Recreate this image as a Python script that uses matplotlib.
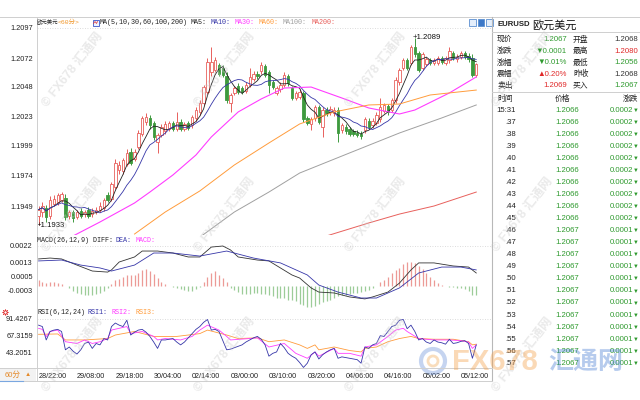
import numpy as np
import pandas as pd
import matplotlib
matplotlib.use("Agg")
import matplotlib.pyplot as plt
from matplotlib.patches import Rectangle, Circle

W, H = 640, 400
plt.rcParams['font.family'] = ['Liberation Sans', 'Noto Sans CJK SC', 'DejaVu Sans']

# ---------------- data (60 min EURUSD) ----------------
opens = [1.1941, 1.1944, 1.1947, 1.1941, 1.1951, 1.1952, 1.1954, 1.1956, 1.1941, 1.1944,
         1.1940, 1.1945, 1.1942, 1.1946, 1.1942, 1.1944, 1.1946, 1.1947, 1.1958, 1.1955,
         1.1965, 1.1979, 1.1978, 1.1984, 1.1994, 1.1988, 1.1998, 1.2009, 1.2019, 1.2022,
         1.2018, 1.2002, 1.2008, 1.2011, 1.2013, 1.2018, 1.2013, 1.2019, 1.2013, 1.2018,
         1.2016, 1.2022, 1.2027, 1.2035, 1.2044, 1.2060, 1.2062, 1.2066, 1.2064, 1.2057,
         1.2035, 1.2043, 1.2049, 1.2047, 1.2045, 1.2050, 1.2055, 1.2059, 1.2061, 1.2065,
         1.2060, 1.2052, 1.2043, 1.2046, 1.2050, 1.2057, 1.2047, 1.2039, 1.2040, 1.2043,
         1.2022, 1.2017, 1.2022, 1.2031, 1.2015, 1.2029, 1.2027, 1.2026, 1.2029, 1.2012,
         1.2015, 1.2013, 1.2011, 1.2010, 1.2009, 1.2012, 1.2020, 1.2016, 1.2018, 1.2021,
         1.2028, 1.2032, 1.2029, 1.2037, 1.2052, 1.2064, 1.2070, 1.2068, 1.2081, 1.2076,
         1.2064, 1.2067, 1.2070, 1.2068, 1.2068, 1.2072, 1.2068, 1.2070, 1.2076, 1.2071,
         1.2073, 1.2076, 1.2074, 1.2072, 1.2058]
highs = [1.1949, 1.1952, 1.1950, 1.1957, 1.1958, 1.1960, 1.1961, 1.1959, 1.1946, 1.1946,
         1.1946, 1.1947, 1.1946, 1.1948, 1.1947, 1.1948, 1.1952, 1.1956, 1.1961, 1.1969,
         1.1988, 1.1986, 1.1989, 1.1996, 1.1997, 1.1996, 1.2012, 1.2024, 1.2026, 1.2025,
         1.2020, 1.2010, 1.2017, 1.2020, 1.2020, 1.2020, 1.2027, 1.2021, 1.2019, 1.2020,
         1.2025, 1.2031, 1.2037, 1.2050, 1.2072, 1.2081, 1.2073, 1.2068, 1.2066, 1.2060,
         1.2043, 1.2049, 1.2051, 1.2049, 1.2052, 1.2064, 1.2061, 1.2061, 1.2069, 1.2067,
         1.2062, 1.2054, 1.2049, 1.2052, 1.2060, 1.2059, 1.2049, 1.2045, 1.2046, 1.2045,
         1.2024, 1.2023, 1.2033, 1.2033, 1.2031, 1.2031, 1.2032, 1.2031, 1.2031, 1.2018,
         1.2017, 1.2015, 1.2013, 1.2012, 1.2011, 1.2023, 1.2022, 1.2022, 1.2027, 1.2039,
         1.2035, 1.2034, 1.2039, 1.2056, 1.2064, 1.2072, 1.2072, 1.2083, 1.2089, 1.2078,
         1.2077, 1.2073, 1.2072, 1.2072, 1.2074, 1.2074, 1.2074, 1.2081, 1.2078, 1.2075,
         1.2078, 1.2078, 1.2076, 1.2075, 1.2068]
lows = [1.1933, 1.1940, 1.1936, 1.1938, 1.1949, 1.1950, 1.1952, 1.1937, 1.1938, 1.1936,
        1.1938, 1.1939, 1.1940, 1.1939, 1.1940, 1.1942, 1.1944, 1.1945, 1.1952, 1.1953,
        1.1963, 1.1976, 1.1976, 1.1982, 1.1983, 1.1986, 1.1996, 1.2007, 1.2016, 1.2013,
        1.2004, 1.1993, 1.2006, 1.2009, 1.2011, 1.2011, 1.2011, 1.2011, 1.2011, 1.2012,
        1.2014, 1.2020, 1.2025, 1.2033, 1.2042, 1.2057, 1.2060, 1.2057, 1.2056, 1.2035,
        1.2027, 1.2041, 1.2042, 1.2042, 1.2043, 1.2048, 1.2053, 1.2055, 1.2059, 1.2056,
        1.2043, 1.2046, 1.2041, 1.2044, 1.2048, 1.2049, 1.2037, 1.2037, 1.2038, 1.2019,
        1.2016, 1.2012, 1.2020, 1.2017, 1.2006, 1.2024, 1.2025, 1.2024, 1.2002, 1.2010,
        1.2009, 1.2007, 1.2007, 1.2006, 1.2005, 1.2010, 1.2013, 1.2014, 1.2016, 1.2019,
        1.2026, 1.2025, 1.2027, 1.2035, 1.2050, 1.2062, 1.2062, 1.2066, 1.2073, 1.2060,
        1.2062, 1.2065, 1.2066, 1.2066, 1.2066, 1.2067, 1.2066, 1.2068, 1.2070, 1.2069,
        1.2071, 1.2071, 1.2069, 1.2056, 1.2056]
closes = [1.1946, 1.1949, 1.1940, 1.1954, 1.1955, 1.1958, 1.1959, 1.1940, 1.1944, 1.1939,
          1.1944, 1.1941, 1.1944, 1.1941, 1.1945, 1.1946, 1.1949, 1.1954, 1.1954, 1.1967,
          1.1985, 1.1983, 1.1987, 1.1993, 1.1985, 1.1994, 1.2010, 1.2022, 1.2023, 1.2016,
          1.2006, 1.2008, 1.2015, 1.2017, 1.2018, 1.2013, 1.2019, 1.2013, 1.2017, 1.2014,
          1.2023, 1.2029, 1.2035, 1.2048, 1.2069, 1.2069, 1.2070, 1.2059, 1.2058, 1.2037,
          1.2041, 1.2047, 1.2044, 1.2044, 1.2050, 1.2056, 1.2059, 1.2057, 1.2066, 1.2058,
          1.2050, 1.2048, 1.2047, 1.2050, 1.2058, 1.2051, 1.2039, 1.2043, 1.2044, 1.2021,
          1.2018, 1.2021, 1.2031, 1.2019, 1.2029, 1.2026, 1.2030, 1.2029, 1.2010, 1.2016,
          1.2011, 1.2009, 1.2009, 1.2008, 1.2007, 1.2021, 1.2015, 1.2020, 1.2025, 1.2031,
          1.2033, 1.2027, 1.2037, 1.2054, 1.2062, 1.2070, 1.2064, 1.2081, 1.2075, 1.2062,
          1.2075, 1.2071, 1.2068, 1.2070, 1.2072, 1.2069, 1.2072, 1.2078, 1.2072, 1.2073,
          1.2076, 1.2073, 1.2071, 1.2058, 1.2067]
time_labels = ["28/22:00", "29/08:00", "29/18:00", "30/04:00", "02/14:00", "03/00:00",
               "03/10:00", "03/20:00", "04/06:00", "04/16:00", "05/02:00", "05/12:00"]

# long moving averages (bar index, value)
ma30_idx = [9, 16, 25, 29, 35, 41, 45, 52, 58, 64, 71, 79, 86, 94, 98, 107, 114]
ma30_val = [1.19241, 1.19357, 1.19515, 1.19606, 1.19748, 1.19914, 1.20064, 1.20272, 1.20380,
            1.20471, 1.20479, 1.20388, 1.20305, 1.20255, 1.20288, 1.20430, 1.20563]
ma60_idx = [25, 33, 42, 51, 60, 68, 77, 86, 94, 102, 114]
ma60_val = [1.19257, 1.19440, 1.19615, 1.19831, 1.20014, 1.20172, 1.20272, 1.20330, 1.20338,
            1.20413, 1.20454]
ma100_idx = [41, 51, 60, 68, 81, 94, 105, 114]
ma100_val = [1.19207, 1.19440, 1.19606, 1.19764, 1.19931, 1.20097, 1.20222, 1.20330]
ma200_idx = [75, 86, 94, 103, 114]
ma200_val = [1.19241, 1.19349, 1.19423, 1.19490, 1.19606]

# MACD(26,12,9)
diff_idx = [0, 3, 6, 10, 14, 18, 19, 21, 25, 27, 31, 35, 39, 42, 45, 48, 50, 52, 57, 60, 63,
            66, 68, 71, 73, 77, 81, 85, 87, 91, 94, 97, 99, 103, 108, 112, 114]
diff_val = [0.00148, 0.00153, 0.00148, 0.00114, 0.00081, 0.00075, 0.00087, 0.00131, 0.00159,
            0.00192, 0.00192, 0.00181, 0.00159, 0.00159, 0.00214, 0.00220, 0.00198, 0.00159,
            0.00142, 0.00137, 0.00098, 0.00059, 0.00042, -0.00013, -0.00036, -0.00041,
            -0.00063, -0.00074, -0.00063, -0.00036, 0.00014, 0.00087, 0.00126, 0.00126,
            0.00109, 0.00103, 0.00070]
dea_idx = [0, 6, 11, 16, 19, 25, 30, 35, 42, 49, 56, 63, 70, 73, 78, 84, 88, 94, 99, 105, 110, 114]
dea_val = [0.00137, 0.00142, 0.00114, 0.00098, 0.00081, 0.00114, 0.00181, 0.00181, 0.00164,
           0.00192, 0.00153, 0.00126, 0.00059, 0.00003, -0.00036, -0.00069, -0.00069,
           -0.00013, 0.00070, 0.00103, 0.00103, 0.00087]
macd_hist = [0.00030, 0.00020, 0.00015, 0.00018, 0.00018, 0.00012, 0.00008,
             -0.00005, -0.00015, -0.00030, -0.00040, -0.00045, -0.00050, -0.00050, -0.00050,
             -0.00045, -0.00040, -0.00030, -0.00015, 0.00010,
             0.00030, 0.00035, 0.00050, 0.00060, 0.00060, 0.00060, 0.00070, 0.00088, 0.00092,
             0.00080, 0.00065, 0.00040, 0.00020, 0.00010,
             -0.00005, -0.00010, -0.00015, -0.00020, -0.00025, -0.00030, -0.00030, -0.00020,
             -0.00010,
             0.00020, 0.00050, 0.00070, 0.00080, 0.00060, 0.00040, 0.00020,
             -0.00015, -0.00025, -0.00035, -0.00045, -0.00047, -0.00045, -0.00043, -0.00043,
             -0.00045, -0.00048, -0.00050, -0.00060, -0.00070, -0.00070, -0.00070, -0.00078,
             -0.00080, -0.00085, -0.00100, -0.00110, -0.00120, -0.00120, -0.00115, -0.00100,
             -0.00090, -0.00085, -0.00080, -0.00070, -0.00060, -0.00055, -0.00050, -0.00045,
             -0.00043, -0.00040, -0.00035, -0.00030, -0.00022, -0.00015, -0.00005,
             0.00020, 0.00030, 0.00050, 0.00070, 0.00085, 0.00100, 0.00120, 0.00130, 0.00130,
             0.00125, 0.00110, 0.00090, 0.00070, 0.00050, 0.00030, 0.00015, 0.00005,
             -0.00005, -0.00008, -0.00010, -0.00015, -0.00015, -0.00020, -0.00030, -0.00050,
             -0.00050]

# RSI(6,12,24)
rsi1 = [82, 80, 61, 73, 75, 76, 73, 47, 51, 45,
        41, 47, 56, 58, 49, 56, 54, 63, 61, 80,
        85, 82, 80, 89, 68, 72, 75, 76, 72, 66,
        58, 49, 61, 61, 62, 63, 58, 54, 58, 64,
        70, 76, 80, 86, 90, 75, 76, 73, 60, 47,
        48, 50, 52, 54, 58, 61, 64, 66, 62, 54,
        38, 42, 44, 56, 50, 42, 38, 35, 29, 22,
        28, 40, 44, 34, 40, 44, 47, 49, 35, 37,
        36, 35, 34, 33, 28, 51, 49, 54, 56, 67,
        66, 73, 80, 82, 89, 90, 77, 82, 73, 61,
        63, 58, 56, 61, 58, 57, 55, 62, 56, 57,
        59, 60, 56, 35, 54]
rsi2_idx = [0, 1, 2, 3, 5, 7, 10, 12, 14, 16, 18, 19, 23, 24, 27, 30, 31, 33, 37, 40, 42, 44,
            47, 49, 50, 55, 57, 60, 64, 67, 70, 72, 73, 77, 78, 81, 84, 85, 88, 91, 93, 95,
            96, 99, 103, 107, 110, 112, 113, 114]
rsi2_val = [77.5, 76, 65.6, 73, 75, 58.5, 56, 61, 56, 58.5, 63, 75, 80, 70, 73, 66, 61, 63,
            61, 66, 75, 82, 75, 66, 61, 63, 64, 51, 56, 42, 35, 44, 38, 49, 42, 42, 38, 51,
            54, 66, 75, 77.5, 73, 63, 61, 61, 60, 58, 49, 54]
rsi3_idx = [0, 5, 7, 12, 18, 20, 25, 30, 36, 42, 44, 49, 52, 57, 60, 64, 68, 70, 72, 73, 77,
            81, 84, 85, 88, 91, 94, 97, 99, 103, 108, 112, 113, 114]
rsi3_val = [69, 69.5, 61, 61, 63, 68, 73, 66, 66, 70, 75, 68, 63, 64, 58.5, 61, 54, 49, 54,
            47, 51, 46, 44, 49, 51, 58.5, 63, 66, 63, 62, 62, 58.5, 54, 55]

# quote panel
quote_rows = [("现价", "1.2067", "g", "开盘", "1.2068", "k"),
              ("涨跌", "▼0.0001", "g", "最高", "1.2080", "r"),
              ("涨幅", "▼0.01%", "g", "最低", "1.2056", "g"),
              ("震幅", "▲0.20%", "r", "昨收", "1.2068", "k"),
              ("卖出", "1.2069", "r", "买入", "1.2067", "g")]
tick_times = ["15:31", ".37", ".38", ".39", ".40", ".41", ".42", ".43", ".44", ".45", ".46",
              ".47", ".48", ".49", ".50", ".51", ".52", ".53", ".54", ".55", ".56", ".57"]
tick_prices = ["1.2066"] * 10 + ["1.2067"] * 12
tick_changes = ["0.0002"] * 10 + ["0.0001"] * 12

# ---------------- styles ----------------
RED = '#e8605c'
GREEN = '#3e9a3e'
HRED = '#ec9a96'
HGREEN = '#9ccc98'
BLUE = '#3636a8'
MAG = '#ff3cff'
ORANGE = '#ff9c3c'
GRAY = '#a0a0a0'
MA200C = '#e8605c'
TXT = '#222222'
QRED = '#e02828'
QGREEN = '#2e9a2e'
qcol = {"g": QGREEN, "r": QRED, "k": '#333333'}
MONO = ['Liberation Mono', 'Noto Sans CJK SC']

fig = plt.figure(figsize=(6.4, 4), dpi=100)
fig.patch.set_facecolor('white')


def box(x0, y0, x1, y1):
    return [x0 / W, 1 - y1 / H, (x1 - x0) / W, (y1 - y0) / H]


def panel(y0, y1):
    ax = fig.add_axes(box(37, y0, 492, y1))
    ax.set_facecolor('none')
    for s in ax.spines.values():
        s.set_visible(False)
    ax.set_xlim(-0.4, 118.1)
    ax.set_xticks([])
    ax.tick_params(axis='y', length=0, pad=3, labelsize=5.3, labelcolor=TXT)
    return ax


idx = np.arange(len(closes))
o, hi, lo, c = map(np.array, (opens, highs, lows, closes))
up = c >= o

# ---- price panel ----
ax = panel(18, 235)
ax.set_ylim(1.192489, 1.210531)
ax.vlines(idx, lo, hi, colors=np.where(up, RED, GREEN), lw=0.7, zorder=2)
ax.bar(idx[up], (c - o)[up], bottom=o[up], width=0.62, facecolor='white',
       edgecolor=RED, lw=0.6, zorder=3)
ax.bar(idx[~up], (o - c)[~up], bottom=c[~up], width=0.62, color=GREEN,
       edgecolor=GREEN, lw=0.6, zorder=3)
cs = pd.Series(closes)
ax.plot(idx, cs.rolling(5, min_periods=1).mean(), color='#222222', lw=0.6, zorder=4)
ax.plot(idx, cs.rolling(10, min_periods=1).mean(), color=BLUE, lw=0.6, zorder=4)
ax.plot(ma30_idx, ma30_val, color=MAG, lw=0.8, zorder=4)
ax.plot(ma60_idx, ma60_val, color=ORANGE, lw=0.7, zorder=4)
ax.plot(ma100_idx, ma100_val, color=GRAY, lw=0.7, zorder=4)
ax.plot(ma200_idx, ma200_val, color=MA200C, lw=0.7, zorder=4)
ax.set_yticks([1.2097, 1.2072, 1.2048, 1.2023, 1.1999, 1.1974, 1.1949])
ax.set_yticklabels(["1.2097", "1.2072", "1.2048", "1.2023", "1.1999", "1.1974", "1.1949"])
ax.axhline(1.2097, color='#d0d0d0', lw=0.6, ls=(0, (1, 2)), zorder=1)
imax = int(np.argmax(hi))
imin = int(np.argmin(lo))
ax.annotate(f"+{hi[imax]:.4f}", (imax, hi[imax]), xytext=(-1.5, 0), textcoords='offset points',
            ha='left', va='center', fontsize=5.6, color='#111111', zorder=6)
ax.annotate(f"+{lo[imin]:.4f}", (imin, lo[imin]), xytext=(-1.5, 0), textcoords='offset points',
            ha='left', va='center', fontsize=5.6, color='#111111', zorder=6)

# ---- MACD panel ----
am = panel(235, 310)
am.set_ylim(-0.001356, 0.002811)
hist = np.array(macd_hist)
am.vlines(idx, 0, hist, colors=np.where(hist >= 0, HRED, HGREEN), lw=0.9)
am.plot(diff_idx, diff_val, color='#333333', lw=0.6)
am.plot(dea_idx, dea_val, color=BLUE, lw=0.6)
am.set_yticks([0.0022, 0.0013, 0.0005, -0.0003])
am.set_yticklabels(["0.0022", "0.0013", "0.0005", "-0.0003"])
am.axhline(0.0022, color='#d0d0d0', lw=0.6, ls=(0, (1, 2)), zorder=0)

# ---- RSI panel ----
ar = panel(310, 368)
ar.set_ylim(21.2, 103.49)
ar.plot(rsi3_idx, rsi3_val, color=ORANGE, lw=0.6)
ar.plot(rsi2_idx, rsi2_val, color=MAG, lw=0.6)
ar.plot(idx, rsi1, color=BLUE, lw=0.6)
ar.set_yticks([91.4267, 67.3159, 43.2051])
ar.set_yticklabels(["91.4267", "67.3159", "43.2051"])
ar.axhline(91.4267, color='#d0d0d0', lw=0.6, ls=(0, (1, 2)), zorder=0)
ar.set_xticks(idx[::10])
ar.set_xticklabels(time_labels, ha='left', fontsize=5.2, color=TXT)
ar.tick_params(axis='x', length=0, pad=3.5)

# ---- overlay in pixel coordinates ----
ov = fig.add_axes([0, 0, 1, 1], zorder=10)
ov.set_xlim(0, W)
ov.set_ylim(H, 0)
ov.axis('off')

line = dict(color='#cfcfcf', lw=0.7)
ov.plot([0, W], [17, 17], **line)
ov.plot([36.5, 36.5], [17, 381], **line)
ov.plot([492, 492], [17, 381], color='#b8b8b8', lw=0.8)
ov.plot([0, 492], [368, 368], **line)
ov.plot([0, 492], [381, 381], **line)
ov.plot([492, W], [32, 32], **line)
ov.plot([492, W], [92, 92], **line)

# 60分 selector
ov.add_patch(Rectangle((0, 368), 36, 13, facecolor='#f2f2f2', edgecolor='none'))
ov.plot([0, 23], [380.5, 380.5], color='#7aa7e0', lw=0.8)
ov.text(5, 375, "60分", fontsize=5.5, color='#e58a2a', va='center')
ov.text(25, 375, "▲", fontsize=4.5, color='#e58a2a', va='center')

# chart headers
hdr = [("MA(5,10,30,60,100,200)", 100, TXT),
       ("MA5:", 191, TXT), ("MA10:", 211, BLUE), ("MA30:", 235, MAG), ("MA60:", 259, ORANGE),
       ("MA100:", 283, GRAY), ("MA200:", 312, MA200C)]
ov.text(37, 22.5, "欧元美元", fontsize=3.9, color=TXT, va='center', family=['Noto Sans CJK SC'])
ov.text(58, 22.5, "<60分>", fontsize=4.6, family=MONO, color='#f0962a', va='center')
for s, x, col in hdr:
    ov.text(x, 22.5, s, fontsize=4.9, family=MONO, color=col, va='center')
ov.add_patch(Rectangle((92.5, 19.5), 6, 6, facecolor='#eef2ff', edgecolor='#3a55c8', lw=0.6))
ov.plot([93.5, 95, 96.5, 97.5], [23.5, 21.5, 23.5, 21.5], color='#e03030', lw=0.5)
for k, x in enumerate([469, 477.5, 486]):
    ov.add_patch(Rectangle((x, 19), 6.5, 6.5, facecolor='#3c78c8' if k == 1 else '#e4eefb',
                           edgecolor='#5b8fd0', lw=0.6))

macd_hdr = [("MACD(26,12,9) DIFF:", 37, TXT), ("DEA:", 116, BLUE), ("MACD:", 136, MAG)]
for s, x, col in macd_hdr:
    ov.text(x, 240, s, fontsize=4.9, family=MONO, color=col, va='center')
rsi_hdr = [("RSI(6,12,24)", 37, TXT), ("RSI1:", 87, BLUE), ("RSI2:", 112, MAG), ("RSI3:", 135, ORANGE)]
for s, x, col in rsi_hdr:
    ov.text(x, 313, s, fontsize=4.9, family=MONO, color=col, va='center')
ov.scatter([5], [311.5], s=14, marker=(8, 2, 0), color='#e03030', lw=0.6)
ov.scatter([5], [311.5], s=5, marker='o', facecolor='white', edgecolor='#e03030', lw=0.5)

# quote panel
ov.text(497, 25, "EURUSD", fontsize=5.6, weight='bold', color=TXT, va='center')
ov.text(532, 25, "欧元美元", fontsize=8, color='#111111', va='center',
        family=['Noto Sans CJK SC'])
for k, (l1, v1, c1, l2, v2, c2) in enumerate(quote_rows):
    y = 39.5 + 11.6 * k
    ov.text(497, y, l1, fontsize=5.6, color=TXT, va='center')
    ov.text(567, y, v1, fontsize=5.6, color=qcol[c1], va='center', ha='right')
    ov.text(573, y, l2, fontsize=5.6, color=TXT, va='center')
    ov.text(638, y, v2, fontsize=5.6, color=qcol[c2], va='center', ha='right')
ov.text(497, 98.5, "时间", fontsize=5.6, color=TXT, va='center')
ov.text(562, 98.5, "价格", fontsize=5.6, color=TXT, va='center', ha='center')
ov.text(638, 98.5, "涨跌", fontsize=5.6, color=TXT, va='center', ha='right')
for k, (t, p, d) in enumerate(zip(tick_times, tick_prices, tick_changes)):
    y = 110.2 + 12.05 * k
    ov.text(516, y, t, fontsize=5.6, color=TXT, va='center', ha='right')
    ov.text(579, y, p, fontsize=5.6, color=QGREEN, va='center', ha='right')
    ov.text(633, y, d, fontsize=5.6, color=QGREEN, va='center', ha='right')
    ov.text(639, y, "▼", fontsize=4.2, color=QGREEN, va='center', ha='right')

# watermarks
for x in [72, 224, 375, 522]:
    for y in [70, 215, 355]:
        ov.text(x, y, "© FX678 汇通网", fontsize=9, weight='bold', color='#c8c8c8',
                alpha=0.38, rotation=52, ha='center', va='center')
ov.add_patch(Circle((433, 361), 12, facecolor='none', edgecolor='#5a86d6', lw=3, alpha=0.35))
ov.add_patch(Circle((433, 361), 5, facecolor='none', edgecolor='#f0a040', lw=2, alpha=0.35))
ov.text(452, 362, "FX678", fontsize=21, weight='bold', color='#f4a04a', alpha=0.4, va='center')
ov.text(548, 362, "汇通网", fontsize=18, weight='bold', color='#4a7fd4', alpha=0.4, va='center',
        family=['Noto Sans CJK SC'])

fig.savefig("out.png", dpi=100)
